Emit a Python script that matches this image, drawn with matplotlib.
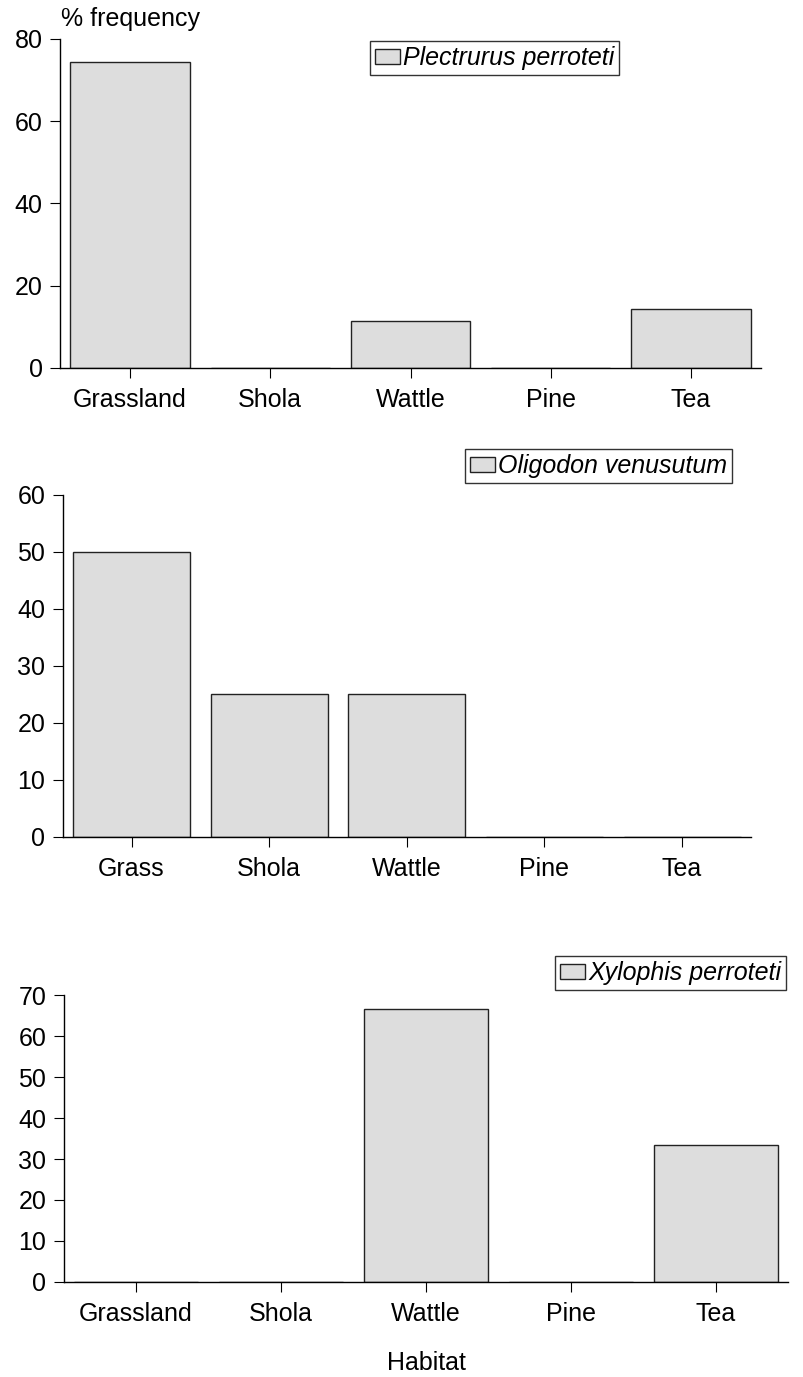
import numpy as np
import matplotlib
matplotlib.use("Agg")
import matplotlib.pyplot as plt

plt.rcParams['font.family'] = ['Liberation Sans', 'DejaVu Sans']
plt.rcParams['font.size'] = 18

# data
hab_a = ["Grassland", "Shola", "Wattle", "Pine", "Tea"]
hab_b = ["Grass", "Shola", "Wattle", "Pine", "Tea"]
plectrurus = [74.3, 0, 11.4, 0, 14.3]
oligodon = [50, 25, 25, 0, 0]
xylophis = [0, 0, 66.7, 0, 33.3]

fig = plt.figure(figsize=(8.04, 13.77), dpi=100)

panels = [
    # rect, labels, values, species, ylim, yticks, legend anchor
    ([0.0746, 0.7328, 0.872, 0.2389], hab_a, plectrurus, "Plectrurus perroteti",
     80, np.arange(0, 81, 20), (370 / 804, 1 - 41 / 1377)),
    ([0.078, 0.3922, 0.856, 0.2484], hab_b, oligodon, "Oligodon venusutum",
     60, np.arange(0, 61, 10), (465 / 804, 1 - 449 / 1377)),
    ([0.079, 0.069, 0.9017, 0.2084], hab_a, xylophis, "Xylophis perroteti",
     70, np.arange(0, 71, 10), (555 / 804, 1 - 956 / 1377)),
]

axes = []
for rect, labels, vals, name, ymax, yt, anchor in panels:
    ax = fig.add_axes(rect)
    x = np.arange(len(labels))
    ax.bar(x, vals, width=0.85, color="#dddddd", edgecolor="#222222",
           linewidth=1.0, label=name)
    ax.set_xlim(-0.5, len(labels) - 0.5)
    ax.set_ylim(0, ymax)
    ax.set_yticks(yt)
    ax.set_xticks(x)
    ax.set_xticklabels(labels)
    for s in ["top", "right"]:
        ax.spines[s].set_visible(False)
    for s in ["left", "bottom"]:
        ax.spines[s].set_linewidth(1.0)
        ax.spines[s].set_color("black")
    ax.tick_params(direction="out", length=7.5, width=0.8, pad=5, labelsize=18)
    ax.tick_params(axis="x", pad=7)
    leg = ax.legend(loc="upper left", bbox_to_anchor=anchor,
                    bbox_transform=fig.transFigure, frameon=True, fancybox=False,
                    edgecolor="black", borderaxespad=0, borderpad=0.2,
                    handlelength=1.0, handleheight=0.55, handletextpad=0.12,
                    prop={"style": "italic", "size": 18})
    leg.get_frame().set_linewidth(1.0)
    axes.append(ax)

fig.text(61 / 804, 1 - 19 / 1377, "% frequency", ha="left", va="center",
         fontsize=18)
axes[2].set_xlabel("Habitat", fontsize=18, labelpad=18)

fig.savefig("out.png", dpi=100)
